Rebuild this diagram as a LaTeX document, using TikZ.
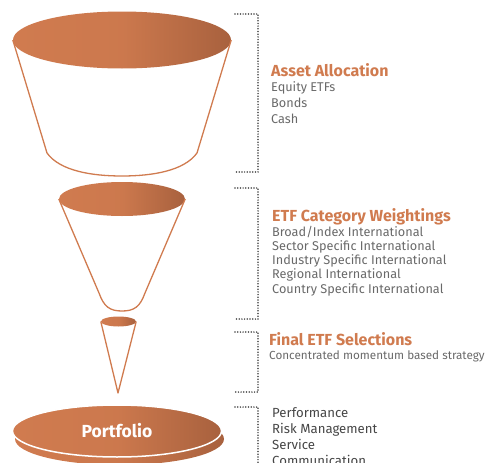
\documentclass[tikz,border=0pt]{standalone}
\usepackage{fontspec}
\setmainfont{Fira Sans}
\usetikzlibrary{shapes.geometric}
\definecolor{rust}{RGB}{208,123,79}
\definecolor{rustdark}{RGB}{168,97,62}
\definecolor{txtgray}{RGB}{105,105,105}
\definecolor{dotgray}{RGB}{70,70,70}
\begin{document}
\begin{tikzpicture}[x=1pt,y=-1pt,
  disc/.style={ellipse,inner sep=0pt,left color=rust,right color=rustdark,middle color=rust!90!rustdark},
  rim/.style={draw=rust,line width=1.3pt,line join=round},
  bracket/.style={draw=dotgray,line width=1.7pt,line cap=round,dash pattern=on 0pt off 2.7pt},
  head/.style={anchor=base west,text=rust,inner sep=0pt,font=\bfseries\fontsize{16}{18}\selectfont},
  item/.style={anchor=base west,text=txtgray,inner sep=0pt,font=\fontsize{12.7}{14}\selectfont}]
\useasboundingbox (0,0) rectangle (485,463);
\clip (0,0) rectangle (485,463);

% funnels
\node[disc,minimum width=218pt,minimum height=57pt] (top) at (122,40){};
\draw[rim] (top.west) -- (47,153) .. controls (60,171) and (92,176) .. (122,176)
  .. controls (152,176) and (184,171) .. (197,153) -- (top.east);

\node[disc,minimum width=126pt,minimum height=34pt] (mid) at (122,199){};
\draw[rim] (mid.west) -- (99,293) .. controls (104,307) and (110,311) .. (122,311)
  .. controls (134,311) and (140,307) .. (145,293) -- (mid.east);

\node[disc,minimum width=35pt,minimum height=10pt] (small) at (118.5,321.5){};
\coordinate (tip) at (118,393);
\draw[rim] (small.west) -- (tip) -- (small.east);

% portfolio disc
\node[disc,minimum width=209pt,minimum height=52pt] (base) at (119.5,439){};
\node[disc,draw=white,line width=1.5pt,minimum width=209pt,minimum height=52pt,
  text=white,font=\bfseries\fontsize{17.5}{20}\selectfont] (portfolio) at (117,431){Portfolio};

% brackets
\draw[bracket] (235,14) -- (258,14) -- (258,172) -- (235,172);
\draw[bracket] (235,188) -- (258,188) -- (258,319) -- (235,319);
\draw[bracket] (235,332) -- (258,332) -- (258,392) -- (235,392);
\draw[bracket] (235,407) -- (258,407) -- (258,470);

% labels
\node[head] (asset) at (271,76){Asset Allocation};
\foreach \t [count=\i] in {Equity ETFs,Bonds,Cash}
  \node[item] (asset-\i) at (271,75.7+16*\i){\t};

\node[head] (category) at (272,221){ETF Category Weightings};
\foreach \t [count=\i] in {Broad/Index International,Sector Specific International,
  Industry Specific International,Regional International,Country Specific International}
  \node[item] (category-\i) at (272,221.7+14.3*\i){\t};

\node[head] (final) at (269,345){Final ETF Selections};
\node[item,font=\fontsize{11.7}{14}\selectfont] (strategy) at (269,359.3){Concentrated momentum based strategy};

\foreach \t [count=\i] in {Performance,Risk Management,Service,Communication}
  \node[item,text=dotgray,font=\fontsize{13.2}{15}\selectfont] (goal-\i) at (272,401.3+16*\i){\t};
\end{tikzpicture}
\end{document}
